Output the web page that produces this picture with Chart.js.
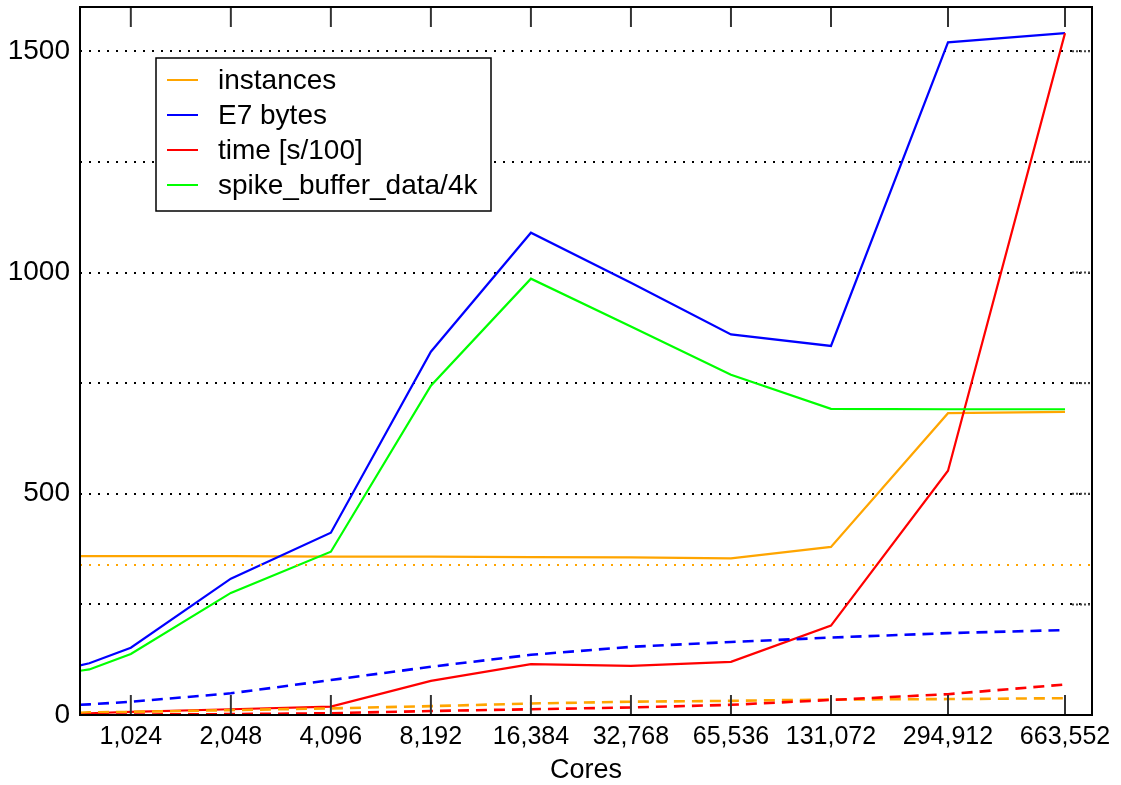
<!DOCTYPE html>
<html><head><meta charset="utf-8">
<script src="https://cdn.jsdelivr.net/npm/chart.js@4.4.1/dist/chart.umd.min.js"></script>
<style>html,body{margin:0;padding:0;background:#fff}canvas{display:block}</style>
</head><body>
<canvas id="c" width="1121" height="785"></canvas>
<script>
// ---- data ----
const cores = [720, 768, 1024, 2048, 4096, 8192, 16384, 32768, 65536, 131072, 294912, 663552];
const xTickValues = [1024, 2048, 4096, 8192, 16384, 32768, 65536, 131072, 294912, 663552];
const yTickValues = [0, 250, 500, 750, 1000, 1250, 1500];
const yLabelValues = [0, 500, 1000, 1500];

const instances      = [359, 359, 359, 359, 358, 358, 357, 356, 354, 380, 682, 685];
const e7Bytes        = [112, 117, 152, 308, 412, 821, 1090, 977, 860, 834, 1520, 1541];
const timeS100       = [3, 4, 7, 13, 19, 77, 115, 111, 120, 202, 552, 1541];
const spikeBuffer4k  = [100, 103, 138, 276, 369, 744, 986, 878, 769, 692, 691, 691];

const instancesDashed = [5, 6, 7, 11, 15, 20, 26, 30, 32, 35, 36, 38];
const e7BytesDashed   = [23, 24, 30, 49, 79, 109, 136, 154, 165, 175, 185, 192];
const timeDashed      = [0, 1, 1, 2, 4, 9, 13, 17, 23, 34, 47, 69];

const refCores = [720, 800000];
const instancesRef = [339, 339];

const labels = ['instances', 'E7 bytes', 'time [s/100]', 'spike_buffer_data/4k'];
const colors = ['#FFA500', '#0000FF', '#FF0000', '#00FF00'];

const pts = (xs, ys) => xs.map((x, i) => ({x, y: ys[i]}));

const FONT = "'Liberation Sans', Arial, sans-serif";

const datasets = [
  {label: labels[0], data: pts(cores, instances), borderColor: colors[0], borderWidth: 2.2, legend: true, order: 8},
  {label: labels[1], data: pts(cores, e7Bytes), borderColor: colors[1], borderWidth: 2.2, legend: true, order: 7},
  {label: labels[2], data: pts(cores, timeS100), borderColor: colors[2], borderWidth: 2.2, legend: true, order: 6},
  {label: labels[3], data: pts(cores, spikeBuffer4k), borderColor: colors[3], borderWidth: 2.2, legend: true, order: 5},
  {label: 'instances (dashed)', data: pts(cores, instancesDashed), borderColor: colors[0], borderWidth: 2.6, borderDash: [11, 7], order: 4},
  {label: 'E7 bytes (dashed)', data: pts(cores, e7BytesDashed), borderColor: colors[1], borderWidth: 2.6, borderDash: [11, 7], order: 3},
  {label: 'time (dashed)', data: pts(cores, timeDashed), borderColor: colors[2], borderWidth: 2.6, borderDash: [11, 7], order: 2},
  {label: 'instances ref', data: pts(refCores, instancesRef), borderColor: colors[0], borderWidth: 2, borderDash: [2, 7], order: 1}
].map(d => Object.assign({pointRadius: 0, fill: false, tension: 0, backgroundColor: d.borderColor}, d));

const framePlugin = {
  id: 'frame',
  afterDraw(chart) {
    const {ctx, chartArea: a, scales} = chart;
    ctx.save();
    // right-side mirror y ticks
    ctx.strokeStyle = '#444';
    ctx.lineWidth = 2;
    ctx.setLineDash([2, 2]);
    yTickValues.forEach(v => {
      const y = scales.y.getPixelForValue(v);
      ctx.beginPath(); ctx.moveTo(a.right - 20, y); ctx.lineTo(a.right, y); ctx.stroke();
    });
    ctx.setLineDash([]);
    // x tick marks (inward, top and bottom)
    ctx.strokeStyle = '#333';
    ctx.lineWidth = 2;
    xTickValues.forEach(v => {
      const x = scales.x.getPixelForValue(v);
      ctx.beginPath(); ctx.moveTo(x, a.bottom); ctx.lineTo(x, a.bottom - 20); ctx.stroke();
      ctx.beginPath(); ctx.moveTo(x, a.top); ctx.lineTo(x, a.top + 20); ctx.stroke();
    });
    // frame
    ctx.strokeStyle = '#000';
    ctx.lineWidth = 2;
    ctx.strokeRect(a.left, a.top, a.right - a.left, a.bottom - a.top);
    // legend box
    const bx = 156, by = 58, bw = 335, bh = 153;
    ctx.fillStyle = '#fff';
    ctx.fillRect(bx, by, bw, bh);
    ctx.lineWidth = 1.5;
    ctx.strokeRect(bx, by, bw, bh);
    ctx.font = "28px " + FONT;
    ctx.textBaseline = 'middle';
    ctx.textAlign = 'left';
    let row = 0;
    chart.data.datasets.forEach(ds => {
      if (!ds.legend) return;
      const y = 80 + row * 35;
      ctx.strokeStyle = ds.borderColor;
      ctx.lineWidth = 2;
      ctx.beginPath(); ctx.moveTo(167, y); ctx.lineTo(198, y); ctx.stroke();
      ctx.fillStyle = '#000';
      ctx.fillText(ds.label, 218, y + 1);
      row++;
    });
    ctx.restore();
  }
};

new Chart(document.getElementById('c'), {
  type: 'line',
  data: {datasets},
  plugins: [framePlugin],
  options: {
    responsive: false,
    animation: false,
    devicePixelRatio: 1,
    layout: {padding: {top: 7, right: 29, left: 0, bottom: 0}},
    plugins: {legend: {display: false}, tooltip: {enabled: false}},
    scales: {
      x: {
        type: 'logarithmic',
        min: 720, max: 800000,
        afterBuildTicks: s => { s.ticks = xTickValues.map(v => ({value: v})); },
        afterFit: s => { s.height = 70; s.paddingLeft = 0; s.paddingRight = 0; },
        grid: {display: false, drawTicks: false},
        border: {display: false},
        ticks: {
          autoSkip: false, maxRotation: 0, minRotation: 0, padding: 7,
          color: '#000', font: {family: FONT, size: 25},
          callback: v => Number(v).toLocaleString('en-US')
        },
        title: {display: true, text: 'Cores', color: '#000', font: {family: FONT, size: 27, lineHeight: 1.1}, padding: {top: 0, bottom: 0}}
      },
      y: {
        type: 'linear',
        min: 0, max: 1600,
        afterBuildTicks: s => { s.ticks = yTickValues.map(v => ({value: v})); },
        afterFit: s => { s.width = 80; s.paddingTop = 0; s.paddingBottom = 0; },
        grid: {color: '#000', lineWidth: 2, drawTicks: false},
        border: {display: false, dash: [2, 7]},
        ticks: {
          padding: 10, color: '#000', font: {family: FONT, size: 28},
          callback: v => yLabelValues.includes(v) ? String(v) : ''
        }
      }
    }
  }
});
</script>
</body></html>
